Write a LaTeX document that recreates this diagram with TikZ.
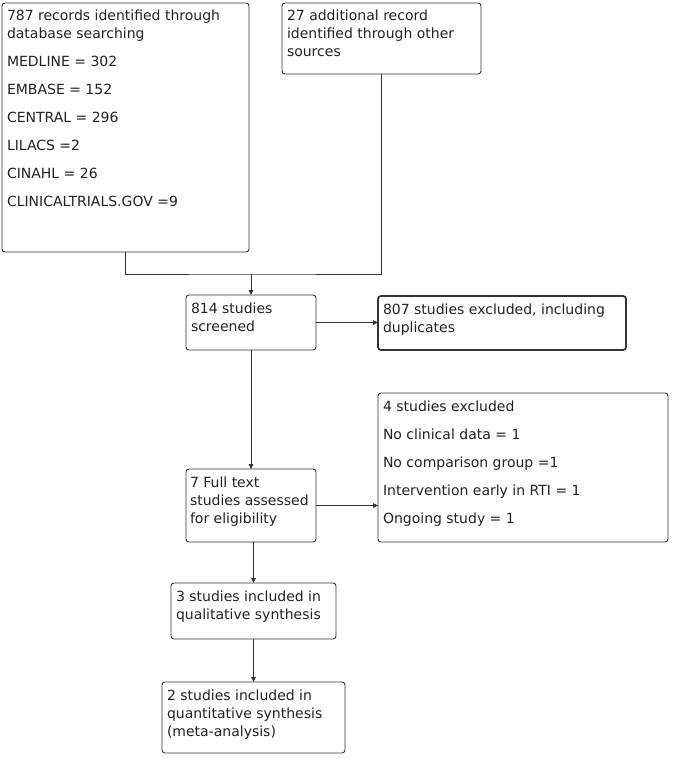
\documentclass[tikz,border=0pt]{standalone}
\usepackage{fontspec}
\setmainfont{DejaVu Sans}
\usetikzlibrary{arrows.meta}
\definecolor{ln}{HTML}{333333}
\definecolor{tx}{HTML}{222222}
\tikzset{
  box/.style={draw=ln, line width=0.9pt, rounded corners=3pt, inner xsep=5pt, inner ysep=0pt,
    outer sep=0pt, anchor=north west, text=tx, font=\fontsize{14}{18}\selectfont},
  thickbox/.style={box, line width=1.8pt},
  conn/.style={draw=ln, line width=0.9pt},
  arr/.style={conn, -{Triangle[length=5pt,width=4.5pt]}}
}
\newcommand{\bx}[3]{\parbox[c][#2pt][t]{#1pt}{\raggedright\rule{0pt}{18pt}#3}}
\begin{document}
\begin{tikzpicture}[x=1pt,y=-1pt]
\useasboundingbox (0,0) rectangle (685,759);
\node[box] (A) at (2,3) {\bx{237}{249}{787 records identified through\\database searching\\[10pt]MEDLINE = 302\\[10pt]EMBASE = 152\\[10pt]CENTRAL = 296\\[10pt]LILACS =2\\[10pt]CINAHL = 26\\[10pt]CLINICALTRIALS.GOV =9}};
\node[box] (B) at (282,3) {\bx{189}{71}{27 additional record\\identified through other\\sources}};
\node[box] (C) at (186,295) {\bx{120}{55}{814 studies\\screened}};
\node[thickbox] (D) at (378,296) {\bx{238}{54}{807 studies excluded, including\\duplicates}};
\node[box] (E) at (378,393) {\bx{280}{149}{4 studies excluded\\[10pt]No clinical data = 1\\[10pt]No comparison group =1\\[10pt]Intervention early in RTI = 1\\[10pt]Ongoing study = 1}};
\node[box, inner xsep=4pt] (F) at (186,469) {\bx{122}{73}{7 Full text\\\mbox{studies assessed}\\for eligibility}};
\node[box] (G) at (171,583) {\bx{155}{56}{3 studies included in\\qualitative synthesis}};
\node[box] (H) at (162,682) {\bx{173}{71}{2 studies included in\\quantitative synthesis\\(meta-analysis)}};
\coordinate (j0) at (0,274);
\coordinate (J) at (C.north |- j0);
\draw[conn] (A.south) |- (J) -| (B.south);
\draw[arr] (J) -- (C.north);
\draw[arr] (C.east) -- (D.west |- C.east);
\draw[arr] (C.south) -- (F.north);
\draw[arr] (F.east) -- (E.west |- F.east);
\draw[arr] (G.north |- F.south) -- (G.north);
\draw[arr] (G.south) -- (H.north);
\end{tikzpicture}
\end{document}
